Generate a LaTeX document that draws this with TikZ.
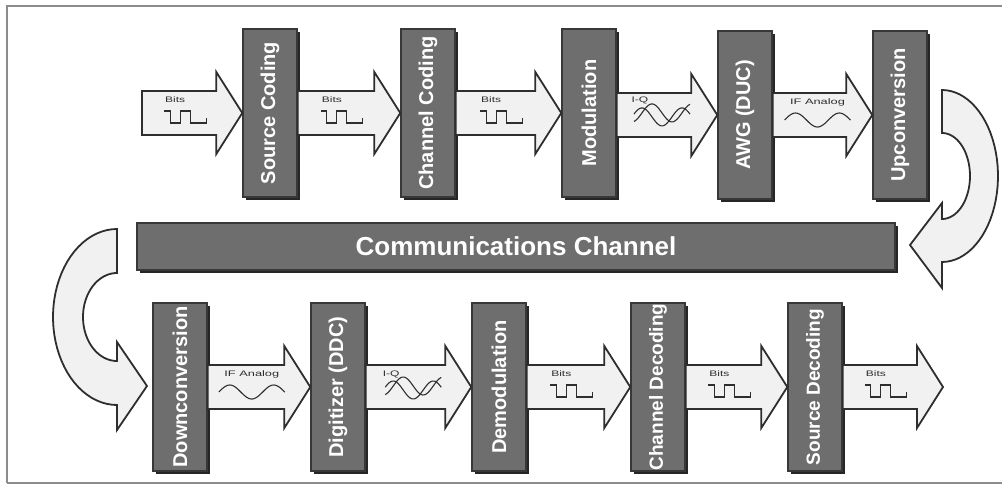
\documentclass[tikz,border=0pt]{standalone}
\usepackage{fontspec}
\setmainfont{Liberation Sans}
\usetikzlibrary{calc,shadows}
\definecolor{chBox}{HTML}{6E6E6E}
\definecolor{chEdge}{HTML}{383838}
\definecolor{chPale}{HTML}{F1F1F1}
\definecolor{chInk}{HTML}{2E2E2E}
\definecolor{chFrame}{HTML}{8C8C8C}
\tikzset{
  ch block/.style={draw=chEdge, line width=1.4pt, fill=chBox, text=white, inner sep=0pt,
    minimum width=54pt, minimum height=168pt, font=\bfseries\fontsize{20}{22}\selectfont,
    drop shadow={shadow xshift=2.5pt, shadow yshift=-2.5pt, fill=black!85, opacity=1}},
  ch bar/.style={ch block, minimum width=758pt, minimum height=47pt,
    font=\bfseries\fontsize{26}{28}\selectfont},
  ch fat/.style={draw=chInk, fill=chPale, line width=1.8pt, line join=miter},
  ch wave/.style={draw=chInk, line width=1.1pt},
  ch tiny/.style={font=\fontsize{8}{8}\selectfont, text=chInk, inner sep=0pt},
  ch frame/.style={draw=chFrame, line width=1.3pt},
  bits icon/.pic={
    \node[ch tiny] (-lbl) at (-12,-13) {\scalebox{1.5}[1]{Bits}};
    \draw[ch wave] (-23,-2) -- (-17,-2) -- (-17,10) -- (-7,10) -- (-7,-2) -- (3,-2)
      -- (3,10) -- (19,10) -- (19,5);
  },
  iq icon/.pic={
    \node[ch tiny] (-lbl) at (-22,-13) {\scalebox{1.5}[1]{I-Q}};
    \draw[ch wave] plot[domain=-28:28, samples=40, smooth] (\x,{-1+9*sin(\x*9)});
    \draw[ch wave] plot[domain=-28:28, samples=40, smooth] (\x,{3+9*cos(\x*9)});
  },
  if icon/.pic={
    \node[ch tiny] (-lbl) at (0,-13) {\scalebox{1.6}[1]{IF Analog}};
    \draw[ch wave] plot[domain=-33:33, samples=50, smooth] (\x,{5-7*sin((\x+33)*8.2)});
  },
}
% block arrow from point #1 to point #2 (tip)
\newcommand{\chfat}[2]{%
  \draw[ch fat] let \p1=(#1), \p2=(#2) in
    (\x1,\y2+22pt) -- (\x2-26pt,\y2+22pt) -- (\x2-26pt,\y2+41pt) -- (\x2,\y2)
    -- (\x2-26pt,\y2-41pt) -- (\x2-26pt,\y2-22pt) -- (\x1,\y2-22pt) -- cycle;}

\begin{document}
\begin{tikzpicture}[x=1pt, y=-1pt]
  \useasboundingbox (0,0) rectangle (1002,485);
  \draw[ch frame] (7,483) -- (7,6) -- (1002,6);
  \draw[ch frame] (7,483) -- (1002,483);

  % Transmit chain
  \node[ch block] (srccod) at (270,113) {\rotatebox{90}{Source Coding}};
  \node[ch block] (chcod)  at (428,113) {\rotatebox{90}{Channel Coding}};
  \node[ch block] (modul)  at (589,113) {\rotatebox{90}{Modulation}};
  \node[ch block] (awg)    at (745,115) {\rotatebox{90}{AWG (DUC)}};
  \node[ch block] (upconv) at (900,115) {\rotatebox{90}{Upconversion}};

  % Channel
  \node[ch bar] (chan) at (516,246.5) {Communications Channel};

  % Receive chain
  \node[ch block] (downconv) at (180,387) {\rotatebox{90}{Downconversion}};
  \node[ch block] (digit)    at (338,387) {\rotatebox{90}{Digitizer (DDC)}};
  \node[ch block] (demod)    at (499,387) {\rotatebox{90}{Demodulation}};
  \node[ch block, font=\bfseries\fontsize{19}{21}\selectfont] (chdec) at (658,387) {\rotatebox{90}{Channel Decoding}};
  \node[ch block, font=\bfseries\fontsize{19}{21}\selectfont] (srcdec) at (815,387) {\rotatebox{90}{Source Decoding}};

  \coordinate (in)  at (142,113);
  \coordinate (out) at (943,387);

  % Block arrows
  \chfat{in}{srccod.west}
  \chfat{srccod.east}{chcod.west}
  \chfat{chcod.east}{modul.west}
  \chfat{modul.east}{awg.west}
  \chfat{awg.east}{upconv.west}
  \chfat{downconv.east}{digit.west}
  \chfat{digit.east}{demod.west}
  \chfat{demod.east}{chdec.west}
  \chfat{chdec.east}{srcdec.west}
  \chfat{srcdec.east}{out}

  % Signal icons
  \pic (ic1) at ($(in)!0.45!(srccod.west)$) {bits icon};
  \pic (ic2) at ($(srccod.east)!0.45!(chcod.west)$) {bits icon};
  \pic (ic3) at ($(chcod.east)!0.45!(modul.west)$) {bits icon};
  \pic (ic4) at ($(modul.east)!0.45!(awg.west)$) {iq icon};
  \pic (ic5) at ($(awg.east)!0.45!(upconv.west)$) {if icon};
  \pic (ic6) at ($(downconv.east)!0.43!(digit.west)$) {if icon};
  \pic (ic7) at ($(digit.east)!0.45!(demod.west)$) {iq icon};
  \pic (ic8) at ($(demod.east)!0.45!(chdec.west)$) {bits icon};
  \pic (ic9) at ($(chdec.east)!0.45!(srcdec.west)$) {bits icon};
  \pic (ic10) at ($(srcdec.east)!0.45!(out)$) {bits icon};

  % Curved arrows round the channel
  \draw[ch fat] plot[domain=-90:90, samples=40] ({942+56*cos(\x)},{176+86*sin(\x)})
    -- (942,288) -- (910,245) -- (942,203) -- (942,219)
    -- plot[domain=90:-90, samples=40] ({942+28*cos(\x)},{176+43*sin(\x)}) -- cycle;
  \draw[ch fat] plot[domain=270:90, samples=40] ({117+64*cos(\x)},{317+88*sin(\x)})
    -- (117,430) -- (147,386) -- (117,342) -- (117,361)
    -- plot[domain=90:270, samples=40] ({117+34*cos(\x)},{317+44*sin(\x)}) -- cycle;
\end{tikzpicture}
\end{document}
